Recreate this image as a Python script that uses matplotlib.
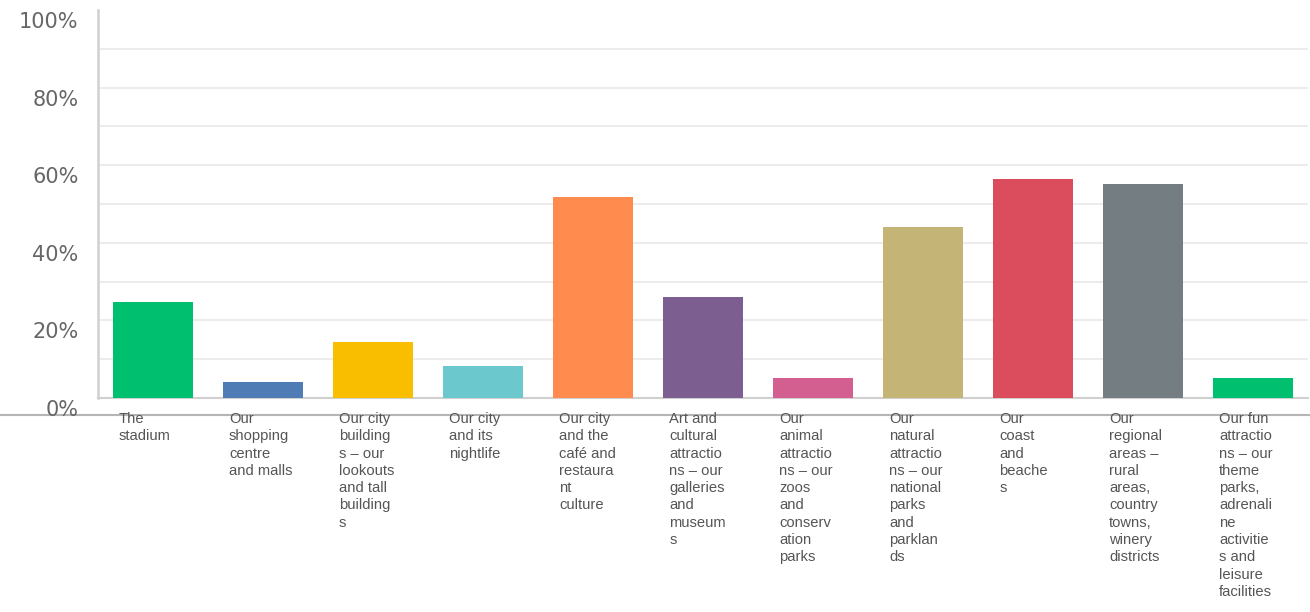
import matplotlib.pyplot as plt
import numpy as np
from matplotlib.lines import Line2D
from matplotlib.transforms import ScaledTranslation, blended_transform_factory

# Share of respondents choosing each attraction (%)
categories = [
    "The\nstadium",
    "Our\nshopping\ncentre\nand malls",
    "Our city\nbuilding\ns \u2013 our\nlookouts\nand tall\nbuilding\ns",
    "Our city\nand its\nnightlife",
    "Our city\nand the\ncaf\u00e9 and\nrestaura\nnt\nculture",
    "Art and\ncultural\nattractio\nns \u2013 our\ngalleries\nand\nmuseum\ns",
    "Our\nanimal\nattractio\nns \u2013 our\nzoos\nand\nconserv\nation\nparks",
    "Our\nnatural\nattractio\nns \u2013 our\nnational\nparks\nand\nparklan\nds",
    "Our\ncoast\nand\nbeache\ns",
    "Our\nregional\nareas \u2013\nrural\nareas,\ncountry\ntowns,\nwinery\ndistricts",
    "Our fun\nattractio\nns \u2013 our\ntheme\nparks,\nadrenali\nne\nactivitie\ns and\nleisure\nfacilities",
]
values = [24.8, 4.2, 14.5, 8.3, 51.8, 26.1, 5.1, 44.0, 56.4, 55.1, 5.1]
colors = ["#00BF6F", "#507CB6", "#F9BE00", "#6BC8CD", "#FF8B4F", "#7D5E90",
          "#D25F90", "#C4B577", "#DB4D5C", "#747D82", "#00BF6F"]
y_ticks = [0, 20, 40, 60, 80, 100]

fig = plt.figure(figsize=(13.1, 6.12), dpi=100)
ax = fig.add_axes([0.0748, 0.3497, 0.9237, 0.634])

x = np.arange(len(values))
bar_w = 0.727
ax.bar(x, values, width=bar_w, color=colors, zorder=3)

# light horizontal guides every 10%
for v in range(10, 100, 10):
    ax.axhline(v, color="#ececec", linewidth=1.5, zorder=1)

ax.set_xlim(-0.5, len(values) - 0.5)
ax.set_ylim(0, 100)
ax.set_xticks([])
ax.set_yticks(y_ticks, [f"{v}%" for v in y_ticks])
ax.tick_params(axis="y", length=0, pad=14, labelsize=15, labelcolor="#666666")
for lbl in ax.get_yticklabels():
    lbl.set_transform(lbl.get_transform() + ScaledTranslation(0, -0.1, fig.dpi_scale_trans))

for side in ["top", "right"]:
    ax.spines[side].set_visible(False)
ax.spines["left"].set_color("#d0d0d0")
ax.spines["left"].set_linewidth(1.8)
ax.spines["bottom"].set_color("#d0d0d0")
ax.spines["bottom"].set_linewidth(1.5)

# category names, left-aligned under each bar
trans = blended_transform_factory(ax.transData, ax.transAxes)
for i, name in enumerate(categories):
    ax.text(i - bar_w / 2 + 0.055, -0.036, name, transform=trans,
            ha="left", va="top", fontsize=10.6, family="Liberation Sans",
            color="#555555", linespacing=1.3)

# rule running across the full width just under the axis
fig.add_artist(Line2D([0, 1], [0.322, 0.322], transform=fig.transFigure,
                      color="#b5b5b5", linewidth=1.5, zorder=0))

fig.savefig("out.png", dpi=100)
